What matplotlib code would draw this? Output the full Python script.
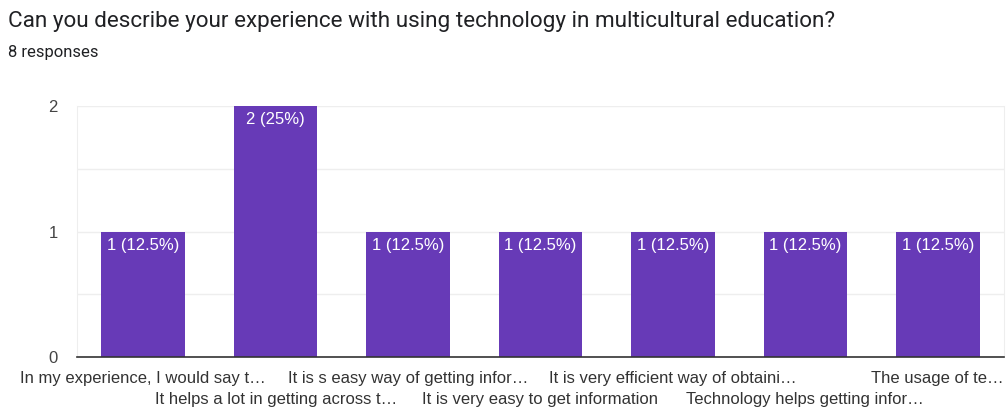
import matplotlib
matplotlib.use("Agg")
import matplotlib.pyplot as plt
import numpy as np

plt.rcParams["font.family"] = ["Liberation Sans", "DejaVu Sans"]

TITLE = "Can you describe your experience with using technology in multicultural education?"
SUBTITLE = "8 responses"
CATEGORIES = [
    "In my experience, I would say t…",
    "It helps a lot in getting across t…",
    "It is s easy way of getting infor…",
    "It is very easy to get information",
    "It is very efficient way of obtaini…",
    "Technology helps getting infor…",
    "The usage of te…",
]
COUNTS = [1, 2, 1, 1, 1, 1, 1]
TOTAL = 8
BAR_COLOR = "#673AB7"

fig = plt.figure(figsize=(10.06, 4.08), dpi=100)
ax = fig.add_axes([77 / 1006, 1 - 357 / 408, 927 / 1006, 251 / 408])

x = np.arange(len(CATEGORIES))
bars = ax.bar(x, COUNTS, width=0.63, color=BAR_COLOR, zorder=3)

# value labels inside the top of each bar
for b, c in zip(bars, COUNTS):
    pct = 100 * c / TOTAL
    label = f"{c} ({pct:g}%)"
    ax.text(b.get_x() + b.get_width() / 2, c - 0.05, label, ha="center", va="top",
            color="white", fontsize=12, zorder=4)

ax.set_xlim(-0.5, len(CATEGORIES) - 0.5)
ax.set_ylim(0, 2)
ax.set_yticks([0, 1, 2])
ax.set_yticks([0.5, 1.5], minor=True)
ax.tick_params(axis="y", which="both", length=0, labelsize=12, labelcolor="#444444", pad=14)
ax.grid(axis="y", which="both", color="#eeeeee", linewidth=1, zorder=0)

ax.set_xticks(x)
ax.set_xticklabels(CATEGORIES)
ax.tick_params(axis="x", length=0, labelsize=12, labelcolor="#333333")
for i, lab in enumerate(ax.get_xticklabels()):
    lab.set_y(-0.035 if i % 2 == 0 else -0.12)

for side in ("left", "right", "top"):
    ax.spines[side].set_color("#eeeeee")
ax.spines["top"].set_visible(False)
ax.spines["bottom"].set_color("#333333")
ax.spines["bottom"].set_linewidth(1.2)
ax.spines["bottom"].set_zorder(5)

fig.text(8 / 1006, 1 - 22 / 408, TITLE, fontsize=16.2, color="#202124", va="center",
         family=["Roboto", "DejaVu Sans"])
fig.text(8 / 1006, 1 - 53 / 408, SUBTITLE, fontsize=12, color="#202124", va="center",
         family=["Roboto", "DejaVu Sans"])

fig.savefig("out.png", dpi=100)
